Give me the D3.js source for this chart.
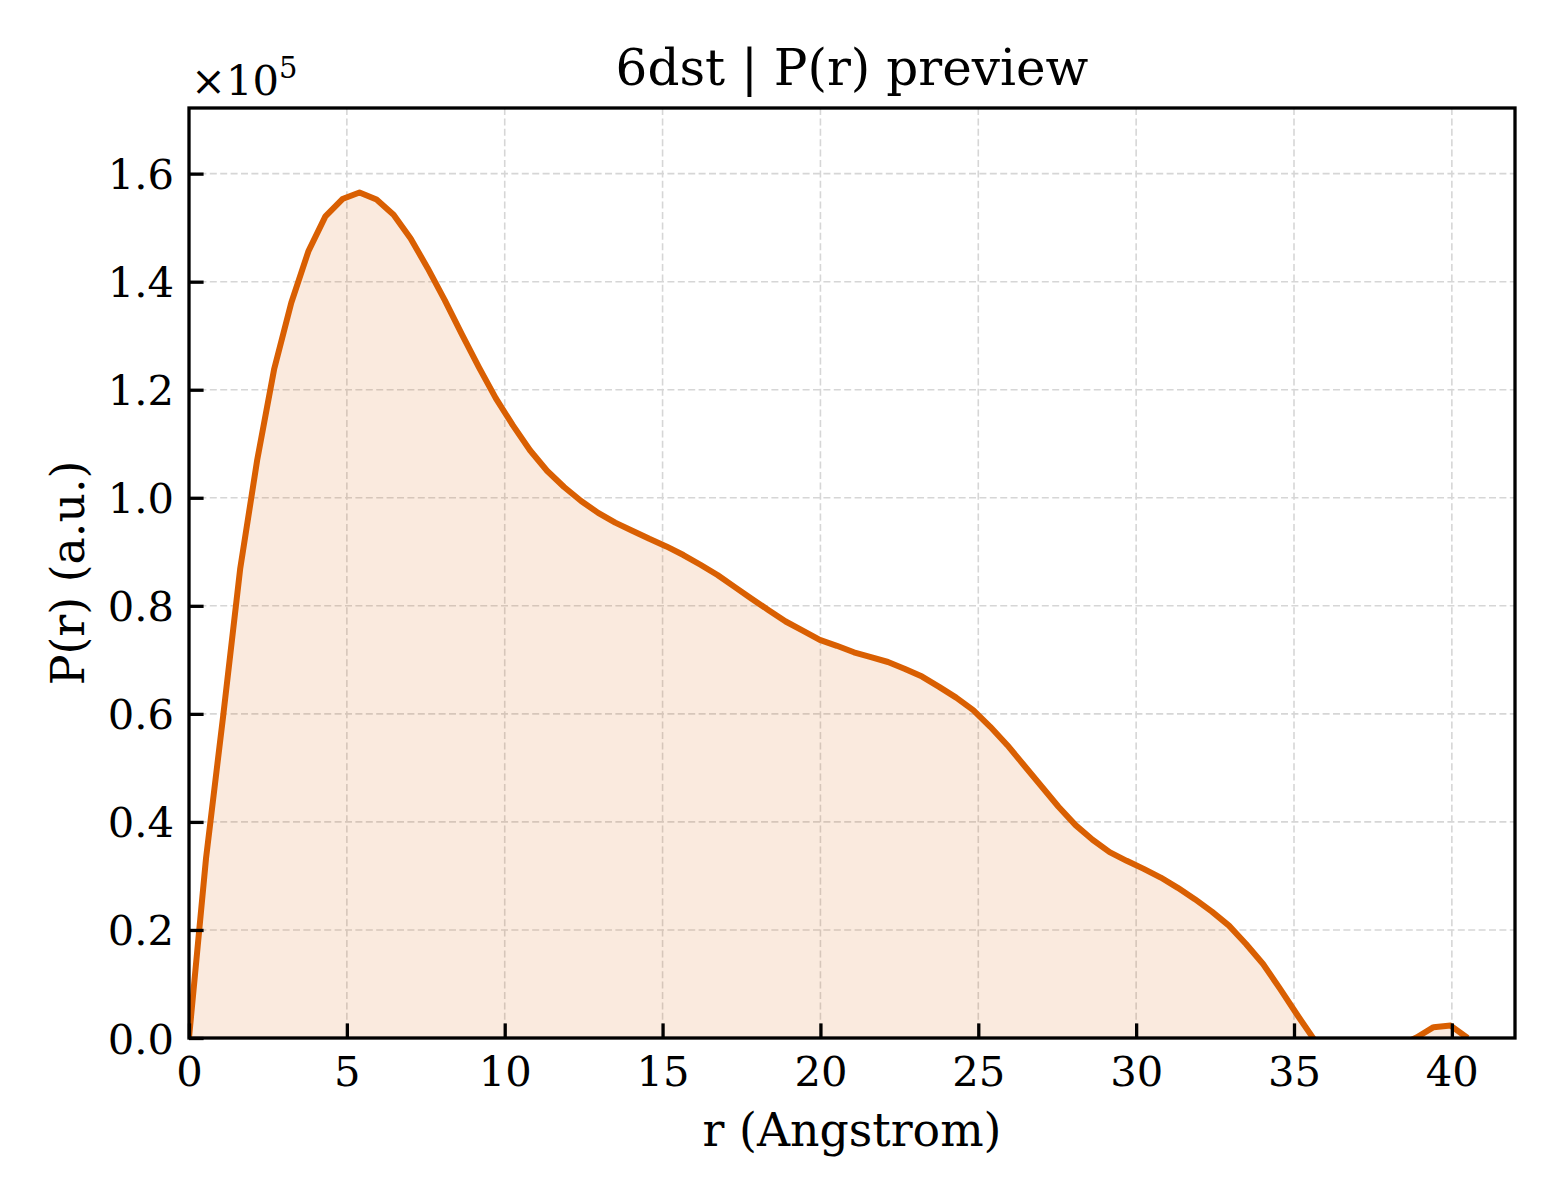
<!DOCTYPE html>
<html>
<head>
<meta charset="utf-8">
<script src="https://cdn.jsdelivr.net/npm/d3@7"></script>
<style>
    body { margin: 0; background: #fff; }
    svg { display: block; font-family: "DejaVu Serif", serif; }
</style>
</head>
<body>
<div id="chart"></div>
<script>
const rValues = [0.00, 0.54, 1.08, 1.62, 2.16, 2.70, 3.24, 3.78, 4.32, 4.86, 5.40, 5.94, 6.48, 7.02, 7.56, 8.10,
    8.64, 9.18, 9.72, 10.26, 10.80, 11.34, 11.88, 12.42, 12.96, 13.50, 14.04, 14.58, 15.12, 15.66, 16.20, 16.74,
    17.28, 17.82, 18.36, 18.90, 19.44, 19.98, 20.52, 21.06, 21.60, 22.14, 22.68, 23.22, 23.76, 24.30, 24.84, 25.38,
    25.92, 26.46, 27.00, 27.54, 28.08, 28.62, 29.16, 29.70, 30.24, 30.78, 31.32, 31.86, 32.40, 32.94, 33.48, 34.02,
    34.56, 35.10, 35.64, 36.18, 36.72, 37.26, 37.80, 38.34, 38.88, 39.42, 39.96, 40.50];

const prValues = [0, 33300, 59500, 86800, 107000, 123900, 136100, 145600, 152100, 155300, 156500, 155200, 152400,
    148000, 142500, 136600, 130300, 124200, 118400, 113400, 108800, 105000, 102000, 99400, 97200, 95400, 93900,
    92400, 91000, 89400, 87600, 85700, 83500, 81300, 79200, 77100, 75400, 73700, 72600, 71400, 70500, 69600, 68300,
    66900, 65000, 63000, 60700, 57600, 54200, 50400, 46600, 42800, 39400, 36700, 34400, 32800, 31300, 29700, 27800,
    25700, 23400, 20800, 17400, 13700, 9100, 4300, -300, -2000, -3000, -3200, -2600, -1400, 100, 2000, 2300, 0];

const xTicks = [0, 5, 10, 15, 20, 25, 30, 35, 40];
const yTicks = [0, 20000, 40000, 60000, 80000, 100000, 120000, 140000, 160000];
const xLimits = [0, 42];

const title = "6dst | P(r) preview";
const xTitle = "r (Angstrom)";
const yTitle = "P(r) (a.u.)";

const width = 1560, height = 1200;
const margin = { left: 189, right: 45, top: 108, bottom: 162 };
const drawWidth = width - margin.left - margin.right;
const drawHeight = height - margin.top - margin.bottom;

const lineColor = "#d95f02";

const data = rValues.map((r, i) => ({ r: r, p: prValues[i] }));

const svg = d3.select("#chart").append("svg")
    .attr("width", width)
    .attr("height", height);

// scales - y top is 10% above the peak
const xScale = d3.scaleLinear().domain(xLimits).range([0, drawWidth]);
const yScale = d3.scaleLinear().domain([0, d3.max(prValues) * 1.1]).range([drawHeight, 0]);

const g = svg.append("g")
    .attr("transform", `translate(${margin.left},${margin.top})`);

g.append("clipPath").attr("id", "plot-clip")
    .append("rect").attr("width", drawWidth).attr("height", drawHeight);

// dashed grid
const grid = g.append("g").attr("class", "grid")
    .attr("stroke", "#d6d6d6")
    .attr("stroke-width", 1.6)
    .attr("stroke-dasharray", "7,3.4");

grid.selectAll(".gx").data(xTicks).enter().append("line")
    .attr("x1", d => xScale(d)).attr("x2", d => xScale(d))
    .attr("y1", 0).attr("y2", drawHeight);

grid.selectAll(".gy").data(yTicks).enter().append("line")
    .attr("y1", d => yScale(d)).attr("y2", d => yScale(d))
    .attr("x1", 0).attr("x2", drawWidth);

// curve + fill, clipped at the axes box
const plot = g.append("g").attr("clip-path", "url(#plot-clip)");

const area = d3.area()
    .x(d => xScale(d.r))
    .y0(yScale(0))
    .y1(d => yScale(d.p));

const line = d3.line()
    .x(d => xScale(d.r))
    .y(d => yScale(d.p));

plot.append("path").datum(data)
    .attr("d", area)
    .attr("fill", lineColor)
    .attr("fill-opacity", 0.13);

plot.append("path").datum(data)
    .attr("d", line)
    .attr("fill", "none")
    .attr("stroke", lineColor)
    .attr("stroke-width", 6)
    .attr("stroke-linejoin", "round");

// axes: inward ticks on left and bottom only
const xAxis = d3.axisBottom(xScale)
    .tickValues(xTicks)
    .tickSizeInner(-14.6)
    .tickSizeOuter(0)
    .tickPadding(30)
    .tickFormat(d3.format("d"));

const yAxis = d3.axisLeft(yScale)
    .tickValues(yTicks)
    .tickSizeInner(-14.6)
    .tickSizeOuter(0)
    .tickPadding(30)
    .tickFormat(d => (d / 1e5).toFixed(1));

const gx = g.append("g")
    .attr("transform", `translate(0,${drawHeight})`)
    .call(xAxis);

const gy = g.append("g").call(yAxis);

[gx, gy].forEach(ax => {
    ax.select(".domain").remove();
    ax.selectAll(".tick line").attr("stroke", "#000").attr("stroke-width", 3.3);
    ax.selectAll(".tick text")
        .attr("fill", "#000")
        .style("font-family", "'DejaVu Serif', serif")
        .style("font-size", "41.7px");
});

// nudge tick labels so they sit like matplotlib's
gx.selectAll(".tick text").attr("y", 48).attr("dy", null);
gy.selectAll(".tick text").attr("x", -15).attr("dy", "0.36em");

// frame
g.append("rect")
    .attr("width", drawWidth)
    .attr("height", drawHeight)
    .attr("fill", "none")
    .attr("stroke", "#000")
    .attr("stroke-width", 3.3);

// texts
svg.append("text")
    .attr("x", margin.left + drawWidth / 2)
    .attr("y", 85)
    .attr("text-anchor", "middle")
    .style("font-size", "50px")
    .text(title);

svg.append("text")
    .attr("x", margin.left + drawWidth / 2)
    .attr("y", 1146)
    .attr("text-anchor", "middle")
    .style("font-size", "45.8px")
    .text(xTitle);

svg.append("text")
    .attr("transform", `translate(84,${margin.top + drawHeight / 2}) rotate(-90)`)
    .attr("text-anchor", "middle")
    .style("font-size", "45.8px")
    .text(yTitle);

// scale factor above the y axis
const offset = svg.append("text")
    .attr("x", 191)
    .attr("y", 95)
    .style("font-size", "41.7px");
offset.append("tspan").text("\u00d710");
offset.append("tspan")
    .attr("dy", -17)
    .style("font-size", "29px")
    .text("5");
</script>
</body>
</html>
